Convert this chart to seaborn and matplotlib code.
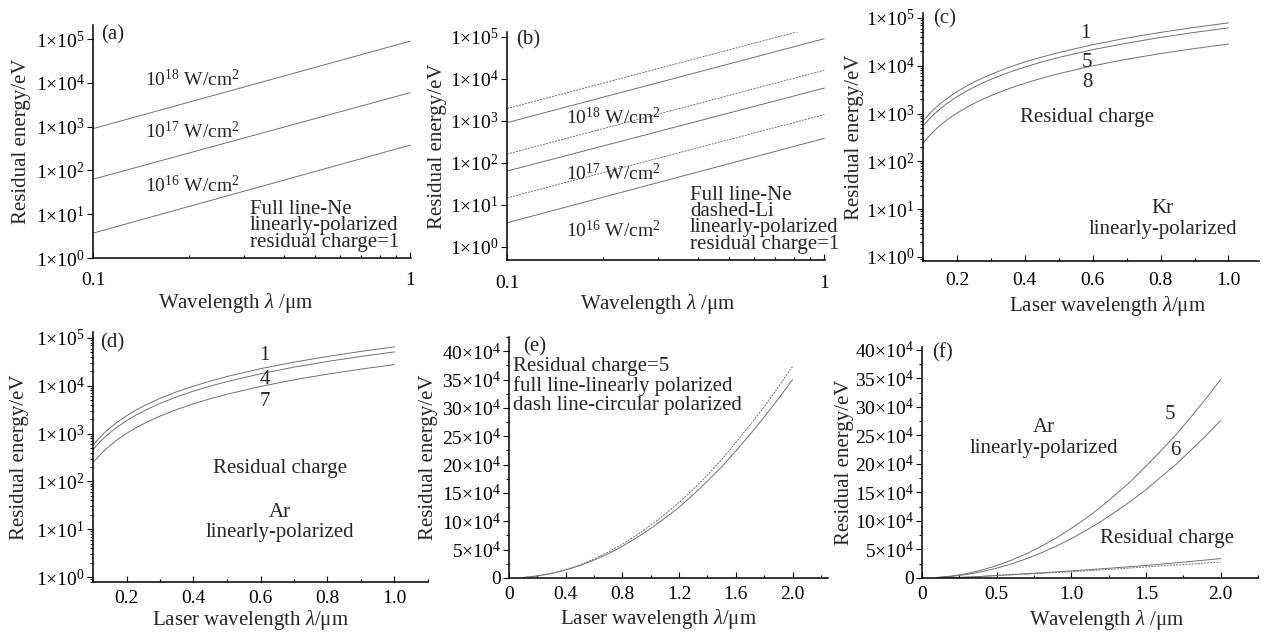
import numpy as np
import matplotlib
matplotlib.use('Agg')
import matplotlib.pyplot as plt
import seaborn as sns
from matplotlib.ticker import FixedLocator, FuncFormatter, LogLocator, MultipleLocator, NullFormatter

sns.set_style('ticks')
plt.rcParams['font.family'] = ['Liberation Serif', 'DejaVu Serif']
plt.rcParams['mathtext.fontset'] = 'custom'
plt.rcParams['mathtext.rm'] = 'Liberation Serif'
plt.rcParams['mathtext.it'] = 'Liberation Serif:italic'
plt.rcParams['mathtext.bf'] = 'Liberation Serif:bold'

# ---------------- data ----------------
# (a), (b): log-log, residual charge = 1
lam_ab = [0.1, 1.0]
ne_1e18 = [900, 90000]
ne_1e17 = [63, 6000]
ne_1e16 = [3.7, 380]
li_1e18 = [1950, 195000]
li_1e17 = [160, 16000]
li_1e16 = [14.5, 1400]

# (c), (d): log y vs linear wavelength
lam_cd = [0.1, 0.11, 0.12, 0.13, 0.14, 0.15, 0.17, 0.2, 0.23, 0.26, 0.3, 0.35,
          0.4, 0.45, 0.5, 0.6, 0.7, 0.8, 0.9, 1.0]
kr_q1 = [690, 840, 1000, 1180, 1380, 1590, 2050, 2870, 3820, 4920, 6600, 9100,
         12000, 15200, 18900, 27600, 37900, 49900, 63600, 79000]
kr_q5 = [540, 660, 790, 930, 1080, 1240, 1610, 2250, 3000, 3860, 5190, 7130,
         9390, 12000, 14900, 21700, 29700, 39100, 49900, 62000]
kr_q8 = [235, 290, 350, 415, 485, 560, 730, 1020, 1365, 1760, 2370, 3260,
         4300, 5490, 6830, 9950, 13670, 18000, 22900, 28500]
ar_q1 = [565, 690, 820, 970, 1130, 1300, 1690, 2360, 3150, 4050, 5440, 7480,
         9840, 12500, 15600, 22700, 31200, 41000, 52300, 65000]
ar_q4 = [460, 555, 660, 775, 900, 1035, 1335, 1860, 2475, 3180, 4270, 5870,
         7720, 9840, 12200, 17800, 24500, 32200, 41000, 51000]
ar_q7 = [245, 295, 350, 415, 485, 555, 720, 1010, 1340, 1730, 2320, 3190,
         4190, 5350, 6640, 9670, 13300, 17500, 22300, 27700]

# (e): residual charge 5, linear vs circular (units of 1e4 eV)
lam_e = [0.1, 0.2, 0.3, 0.4, 0.5, 0.6, 0.7, 0.8, 0.9, 1.0,
         1.1, 1.2, 1.3, 1.4, 1.5, 1.6, 1.7, 1.8, 1.9, 2.0]
e_linear = [0.09, 0.35, 0.79, 1.4, 2.19, 3.15, 4.29, 5.6, 7.09, 8.75,
            10.55, 12.5, 14.7, 17.1, 19.6, 22.4, 25.3, 28.4, 31.6, 35.0]
e_circular = [0.09, 0.37, 0.84, 1.49, 2.33, 3.36, 4.57, 5.97, 7.56, 9.33,
              11.25, 13.35, 15.65, 18.15, 20.9, 23.9, 27.0, 30.2, 33.7, 37.3]

# (f): Ar, linearly polarized (units of 1e4 eV)
lam_f = [0.1, 0.2, 0.3, 0.4, 0.5, 0.6, 0.7, 0.8, 0.9, 1.0,
         1.1, 1.2, 1.3, 1.4, 1.5, 1.6, 1.7, 1.8, 1.9, 2.0]
f_q5 = [0.09, 0.35, 0.78, 1.39, 2.18, 3.13, 4.26, 5.57, 7.05, 8.7,
        10.5, 12.5, 14.7, 17.0, 19.6, 22.3, 25.1, 28.2, 31.4, 34.8]
f_q6 = [0.07, 0.28, 0.62, 1.1, 1.72, 2.48, 3.38, 4.42, 5.59, 6.9,
        8.35, 9.94, 11.7, 13.5, 15.5, 17.7, 19.9, 22.4, 24.9, 27.6]
f_low1 = [0.0, 0.05, 0.15, 0.29, 0.45, 0.6, 0.76, 0.92, 1.08, 1.25,
          1.43, 1.61, 1.8, 2.0, 2.2, 2.43, 2.66, 2.9, 3.15, 3.4]
f_low2 = [0.0, 0.05, 0.14, 0.27, 0.4, 0.54, 0.68, 0.82, 0.96, 1.1,
          1.25, 1.41, 1.58, 1.76, 1.95, 2.12, 2.29, 2.45, 2.62, 2.8]

# ---------------- figure ----------------
FW, FH = 1266, 632
fig = plt.figure(figsize=(FW / 100, FH / 100), dpi=100)
fig.patch.set_facecolor('white')


def make_ax(L, R, T, B):
    return fig.add_axes([L / FW, 1 - B / FH, (R - L) / FW, (B - T) / FH])


LC = '#707070'
LW = 0.7
TS = 14
PS = 15
LS = 15

log_fmt = FuncFormatter(lambda v, p: r'$1{\times}10^{%d}$' % int(round(np.log10(v))))
lin_fmt = FuncFormatter(lambda v, p: '0' if abs(v) < 1e-9 else r'$%d{\times}10^{4}$' % int(round(v / 1e4)))


def style(ax, xpad):
    sns.despine(ax=ax)
    for s in ['left', 'bottom']:
        ax.spines[s].set_linewidth(1.1)
        ax.spines[s].set_color('black')
    ax.tick_params(axis='y', which='both', direction='out', labelsize=TS, width=0.8, colors='black', pad=2)
    ax.tick_params(axis='x', which='both', direction='in', labelsize=TS, width=0.8, colors='black', pad=xpad)
    ax.tick_params(which='major', length=4)
    ax.tick_params(which='minor', length=2)
    ax.set_facecolor('white')


def log_y(ax, lo, hi):
    ax.set_yscale('log')
    ax.set_ylim(lo, hi)
    ax.yaxis.set_major_locator(FixedLocator([1e0, 1e1, 1e2, 1e3, 1e4, 1e5]))
    ax.yaxis.set_major_formatter(log_fmt)
    ax.yaxis.set_minor_locator(LogLocator(base=10, subs=np.arange(2, 10)))
    ax.yaxis.set_minor_formatter(NullFormatter())


def line(ax, x, y, dashed=False):
    kw = dict(color=LC, lw=LW)
    if dashed:
        kw['linestyle'] = (0, (2.0, 1.2))
    sns.lineplot(x=np.asarray(x, float), y=np.asarray(y, float), ax=ax, sort=False, **kw)


def txt(ax, fx, fy, s, **kw):
    kw.setdefault('fontsize', PS)
    ax.text(fx, fy, s, transform=ax.transAxes, **kw)


def labels(ax, xl, yl, xpos, ypos):
    ax.set_xlabel(xl, fontsize=LS)
    ax.set_ylabel(yl, fontsize=LS)
    ax.xaxis.set_label_coords(*xpos)
    ax.yaxis.set_label_coords(*ypos)


YL = 'Residual energy/eV'
XL1 = r'Wavelength $\lambda$ /μm'
XL2 = r'Laser wavelength $\lambda$/μm'
W2 = r'W/cm$^{2}$'

# (a)
ax = make_ax(93, 411, 25, 258)
line(ax, lam_ab, ne_1e18)
line(ax, lam_ab, ne_1e17)
line(ax, lam_ab, ne_1e16)
ax.set_xscale('log')
ax.set_xlim(0.1, 1.005)
log_y(ax, 1.0, 2.1e5)
ax.xaxis.set_major_locator(FixedLocator([0.1, 1.0]))
ax.xaxis.set_major_formatter(FuncFormatter(lambda v, p: '0.1' if v < 0.5 else '1'))
ax.xaxis.set_minor_locator(LogLocator(base=10, subs=np.arange(2, 10)))
ax.xaxis.set_minor_formatter(NullFormatter())
style(ax, 10)
labels(ax, XL1, YL, (0.447, -0.14), (-0.195, 0.5))
txt(ax, 0.063, 0.957, '(a)', ha='center', va='center')
txt(ax, 0.311, 0.764, r'$10^{18}$ ' + W2, ha='center', va='center', fontsize=TS)
txt(ax, 0.311, 0.541, r'$10^{17}$ ' + W2, ha='center', va='center', fontsize=TS)
txt(ax, 0.311, 0.313, r'$10^{16}$ ' + W2, ha='center', va='center', fontsize=TS)
txt(ax, 0.494, 0.248, 'Full line-Ne\nlinearly-polarized\nresidual charge=1', ha='left', va='top', linespacing=0.8)

# (b)
ax = make_ax(507, 825, 32, 260)
line(ax, lam_ab, li_1e18, dashed=True)
line(ax, lam_ab, ne_1e18)
line(ax, lam_ab, li_1e17, dashed=True)
line(ax, lam_ab, ne_1e17)
line(ax, lam_ab, li_1e16, dashed=True)
line(ax, lam_ab, ne_1e16)
ax.set_xscale('log')
ax.set_xlim(0.1, 1.005)
log_y(ax, 0.48, 1.3e5)
ax.xaxis.set_major_locator(FixedLocator([0.1, 1.0]))
ax.xaxis.set_major_formatter(FuncFormatter(lambda v, p: '0.1' if v < 0.5 else '1'))
ax.xaxis.set_minor_locator(LogLocator(base=10, subs=np.arange(2, 10)))
ax.xaxis.set_minor_formatter(NullFormatter())
style(ax, 11)
labels(ax, XL1, YL, (0.475, -0.14), (-0.189, 0.5))
txt(ax, 0.066, 0.965, '(b)', ha='center', va='center')
txt(ax, 0.333, 0.627, r'$10^{18}$ ' + W2, ha='center', va='center', fontsize=TS)
txt(ax, 0.333, 0.38, r'$10^{17}$ ' + W2, ha='center', va='center', fontsize=TS)
txt(ax, 0.333, 0.13, r'$10^{16}$ ' + W2, ha='center', va='center', fontsize=TS)
txt(ax, 0.575, 0.325, 'Full line-Ne\ndashed-Li\nlinearly-polarized\nresidual charge=1', ha='left', va='top', linespacing=0.8)

# (c)
ax = make_ax(923, 1259, 13, 261)
line(ax, lam_cd, kr_q1)
line(ax, lam_cd, kr_q5)
line(ax, lam_cd, kr_q8)
ax.set_xlim(0.1, 1.09)
log_y(ax, 0.82, 1.27e5)
ax.xaxis.set_major_locator(FixedLocator([0.2, 0.4, 0.6, 0.8, 1.0]))
ax.xaxis.set_major_formatter(FuncFormatter(lambda v, p: '%.1f' % v))
ax.xaxis.set_minor_locator(MultipleLocator(0.1))
style(ax, 8)
labels(ax, XL2, YL, (0.55, -0.132), (-0.176, 0.5))
txt(ax, 0.065, 0.976, '(c)', ha='center', va='center')
txt(ax, 0.482, 0.919, '1', ha='center', va='center')
txt(ax, 0.488, 0.80, '5', ha='center', va='center')
txt(ax, 0.488, 0.718, '8', ha='center', va='center')
txt(ax, 0.488, 0.577, 'Residual charge', ha='center', va='center')
txt(ax, 0.714, 0.17, 'Kr\nlinearly-polarized', ha='center', va='center', linespacing=1.1)

# (d)
ax = make_ax(93, 428, 332, 582)
line(ax, lam_cd, ar_q1)
line(ax, lam_cd, ar_q4)
line(ax, lam_cd, ar_q7)
ax.set_xlim(0.1, 1.1)
log_y(ax, 0.79, 1.33e5)
ax.xaxis.set_major_locator(FixedLocator([0.2, 0.4, 0.6, 0.8, 1.0]))
ax.xaxis.set_major_formatter(FuncFormatter(lambda v, p: '%.1f' % v))
ax.xaxis.set_minor_locator(MultipleLocator(0.1))
style(ax, 6)
labels(ax, XL2, YL, (0.47, -0.105), (-0.191, 0.5))
txt(ax, 0.057, 0.956, '(d)', ha='center', va='center')
txt(ax, 0.513, 0.908, '1', ha='center', va='center')
txt(ax, 0.513, 0.808, '4', ha='center', va='center')
txt(ax, 0.513, 0.724, '7', ha='center', va='center')
txt(ax, 0.558, 0.452, 'Residual charge', ha='center', va='center')
txt(ax, 0.558, 0.238, 'Ar\nlinearly-polarized', ha='center', va='center', linespacing=1.1)

# (e)
ax = make_ax(509, 828, 337, 578)
line(ax, lam_e, np.array(e_circular) * 1e4, dashed=True)
line(ax, lam_e, np.array(e_linear) * 1e4)
ax.set_xlim(0, 2.25)
ax.set_ylim(0, 42.5e4)
ax.yaxis.set_major_locator(MultipleLocator(5e4))
ax.yaxis.set_major_formatter(lin_fmt)
ax.yaxis.set_minor_locator(MultipleLocator(2.5e4))
ax.xaxis.set_major_locator(FixedLocator([0, 0.4, 0.8, 1.2, 1.6, 2.0]))
ax.xaxis.set_major_formatter(FuncFormatter(lambda v, p: '0' if v == 0 else '%.1f' % v))
ax.xaxis.set_minor_locator(MultipleLocator(0.2))
style(ax, 6)
labels(ax, XL2, YL, (0.467, -0.12), (-0.223, 0.5))
txt(ax, 0.082, 0.958, '(e)', ha='center', va='center')
txt(ax, 0.013, 0.915, 'Residual charge=5\nfull line-linearly polarized\ndash line-circular polarized', ha='left', va='top', linespacing=0.98)

# (f)
ax = make_ax(922, 1258, 347, 578)
line(ax, lam_f, np.array(f_q5) * 1e4)
line(ax, lam_f, np.array(f_q6) * 1e4)
line(ax, lam_f, np.array(f_low1) * 1e4)
line(ax, lam_f, np.array(f_low2) * 1e4, dashed=True)
ax.set_xlim(0, 2.25)
ax.set_ylim(0, 40.5e4)
ax.yaxis.set_major_locator(MultipleLocator(5e4))
ax.yaxis.set_major_formatter(lin_fmt)
ax.yaxis.set_minor_locator(MultipleLocator(2.5e4))
ax.xaxis.set_major_locator(FixedLocator([0, 0.5, 1.0, 1.5, 2.0]))
ax.xaxis.set_major_formatter(FuncFormatter(lambda v, p: '0' if v == 0 else '%.1f' % v))
ax.xaxis.set_minor_locator(MultipleLocator(0.25))
style(ax, 6)
labels(ax, XL1, YL, (0.548, -0.13), (-0.202, 0.5))
txt(ax, 0.06, 0.974, '(f)', ha='center', va='center')
txt(ax, 0.363, 0.606, 'Ar\nlinearly-polarized', ha='center', va='center', linespacing=1.1)
txt(ax, 0.738, 0.706, '5', ha='center', va='center')
txt(ax, 0.753, 0.554, '6', ha='center', va='center')
txt(ax, 0.729, 0.173, 'Residual charge', ha='center', va='center')

fig.savefig('out.png', dpi=100, facecolor='white')
